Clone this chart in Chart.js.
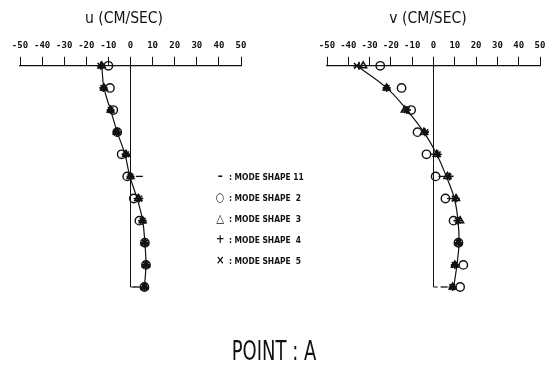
<!DOCTYPE html>
<html lang="en">
<head>
  <meta charset="UTF-8" />
  <title>Point A – u / v profiles</title>
  <script src="https://cdn.jsdelivr.net/npm/chart.js"></script>
  <style>
    html, body {
      margin: 0;
      width: 545px;
      height: 365px;
      overflow: hidden;
      background: white;
    }
    body {
      font-family: 'Liberation Sans Narrow', 'DejaVu Sans Condensed', sans-serif;
      position: relative;
    }
    .panel { position: absolute; top: 0; height: 300px; overflow: hidden; }
    .title {
      position: absolute;
      top: 9px;
      font-size: 15.5px;
      color: #111;
      transform: translateX(-50%);
      white-space: nowrap;
    }
    .legend {
      position: absolute;
      left: 214px;
      top: 168px;
      font-size: 9.5px;
      font-weight: bold;
      color: #111;
      transform-origin: 0 0;
      transform: scaleX(0.88);
    }
    .legend div {
      height: 21px;
      line-height: 16px;
      white-space: pre;
    }
    .legend span.sym {
      display: inline-block;
      width: 14px;
      text-align: center;
      font-family: 'DejaVu Sans', sans-serif;
      font-size: 11.5px;
      font-weight: bold;
    }
    .point {
      position: absolute;
      left: 274px;
      top: 335px;
      font-size: 27px;
      color: #111;
      transform: translateX(-50%) scaleX(0.74);
      white-space: nowrap;
    }
  </style>
</head>
<body>
<div class="panel" style="left:0; width:270px"><canvas id="uChart" width="270" height="300"></canvas></div>
<div class="panel" style="left:270px; width:275px"><canvas id="vChart" width="285" height="300"></canvas></div>

<div class="title" style="left:124px">u (CM/SEC)</div>
<div class="title" style="left:428px">v (CM/SEC)</div>

<div class="legend">
  <div><span class="sym">–</span> : MODE SHAPE 11</div>
  <div><span class="sym">○</span> : MODE SHAPE  2</div>
  <div><span class="sym">△</span> : MODE SHAPE  3</div>
  <div><span class="sym">+</span> : MODE SHAPE  4</div>
  <div><span class="sym">×</span> : MODE SHAPE  5</div>
</div>

<div class="point">POINT : A</div>

<script>
  // depth levels, top (0) to bottom (10)
  const depthLevels = [0, 1, 2, 3, 4, 5, 6, 7, 8, 9, 10];
  const xTickLabels = ['-50', '-40', '-30', '-20', '-10', '0', '10', '20', '30', '40', '50'];

  // u component (cm/sec)
  const uProfile = [-13, -12, -9, -6, -2.5, -0.3, 3, 5.5, 6.5, 7, 6.3];
  const uMode11 = [-13, -12, -9, -6, -2.5, 4, 3, 5, 6.5, 7, 3];
  const uMode2 = [-10, -9.3, -7.8, -6, -4, -1.5, 1.5, 4, 6.5, 7, 6.3];
  const uMode3 = [-13, -12, -9, -6.2, -2, 0, 3.5, 5.5, 6.5, 7, 6.3];
  const uMode4 = [-13.5, -12.3, -9, -6.2, -2, 0, 4, 5.5, 6.5, 7, 6.3];
  const uMode5 = [-13.6, -12.3, -9, -6.2, -2, 0, 4, 5.5, 6.5, 7, 6.3];

  // v component (cm/sec)
  const vProfile = [-36, -22, -12.5, -4.5, 1.5, 6, 9.8, 11.5, 12, 11, 9.5];
  const vMode11 = [-36, -22, -12.5, -4, 0, 4, 8, 11, 11.5, 10, 5];
  const vMode2 = [-25, -15, -10.5, -7.5, -3.3, 1, 5.6, 9.4, 11.7, 14, 12.5];
  const vMode3 = [-33, -22, -13.5, -4.5, 1.5, 6.5, 10.6, 12.5, 11.7, 10, 9];
  const vMode4 = [-35, -22, -12.5, -4, 2, 7.5, 10.5, 11.5, 12, 10, 9];
  const vMode5 = [-36, -22, -12.5, -3.8, 2, 7, 10, 11.5, 11.7, 9.9, 8.8];

  // zero reference line with its bottom hook
  const refX = [0, 0, 2];
  const refDepth = [0, 10, 10];

  function pts(xs, ys) {
    return xs.map((v, i) => ({ x: v, y: ys[i] }));
  }

  function markers(values, style, radius, width) {
    return {
      data: pts(values, depthLevels),
      showLine: false,
      pointStyle: style,
      pointRadius: radius,
      pointBorderWidth: width,
      pointBorderColor: '#111',
      pointBackgroundColor: 'rgba(0,0,0,0)',
      clip: false
    };
  }

  function makeChart(id, profile, m11, m2, m3, m4, m5, pad) {
    new Chart(document.getElementById(id), {
      type: 'line',
      data: {
        datasets: [
          markers(m5, 'crossRot', 4, 1.6),
          markers(m4, 'cross', 4, 1.6),
          markers(m3, 'triangle', 4, 1.5),
          markers(m2, 'circle', 4.2, 1.4),
          markers(m11, 'line', 3.5, 1.3),
          {
            data: pts(profile, depthLevels),
            borderColor: '#111',
            borderWidth: 1.2,
            pointRadius: 0,
            tension: 0.4,
            clip: false
          },
          {
            data: pts(refX, refDepth),
            borderColor: '#111',
            borderWidth: 1,
            pointRadius: 0,
            tension: 0,
            clip: false
          }
        ]
      },
      options: {
        responsive: false,
        animation: false,
        layout: { padding: pad },
        plugins: { legend: { display: false }, tooltip: { enabled: false } },
        scales: {
          x: {
            type: 'linear',
            position: 'top',
            min: -50,
            max: 50,
            ticks: {
              stepSize: 10,
              padding: 6,
              color: '#111',
              font: { family: 'DejaVu Sans Mono', size: 9, weight: 'bold' },
              maxRotation: 0,
              autoSkip: false,
              callback: (v, i) => xTickLabels[i]
            },
            grid: { drawOnChartArea: false, drawTicks: true, tickLength: 9, color: '#111', lineWidth: 1 },
            border: { display: true, color: '#111', width: 1.2 }
          },
          y: {
            type: 'linear',
            reverse: true,
            min: 0,
            max: 10,
            display: false
          }
        }
      }
    });
  }

  makeChart('uChart', uProfile, uMode11, uMode2, uMode3, uMode4, uMode5,
    { left: 20, right: 29, top: 34, bottom: 13 });
  makeChart('vChart', vProfile, vMode11, vMode2, vMode3, vMode4, vMode5,
    { left: 57, right: 15, top: 34, bottom: 13 });
</script>
</body>
</html>
